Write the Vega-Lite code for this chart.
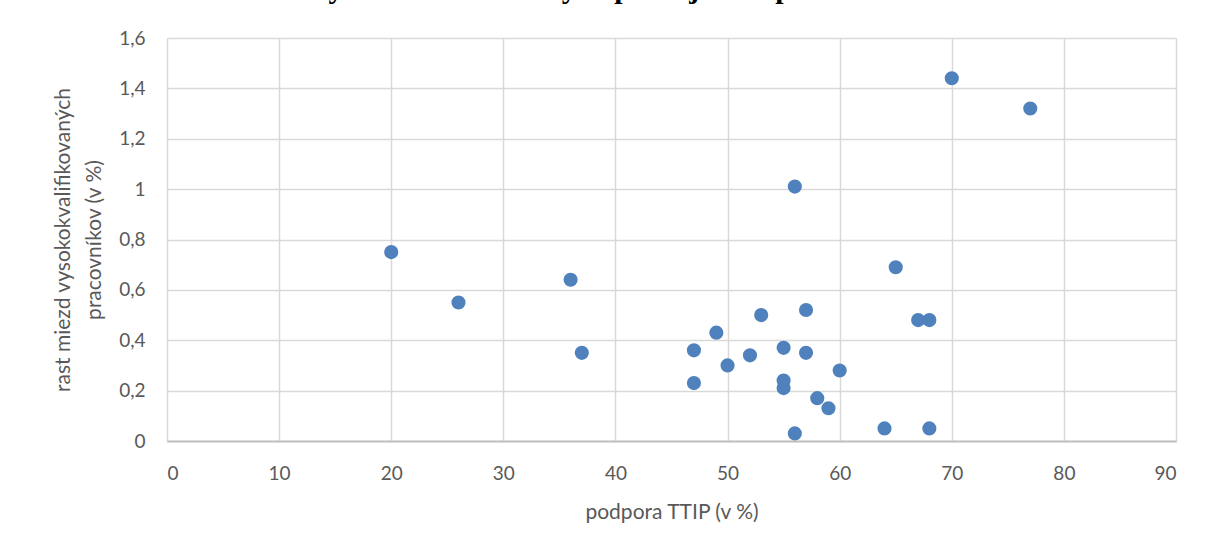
{
  "$schema": "https://vega.github.io/schema/vega-lite/v6.json",
  "width": 1009,
  "height": 403,
  "autosize": {"type": "none"},
  "padding": {"left": 167, "top": 38, "right": 30, "bottom": 113},
  "background": "white",
  "title": {
    "text": "vysokokvalifikovaných pracujúcich podľa TTIP",
    "font": "Liberation Serif",
    "fontSize": 30,
    "fontWeight": "bold",
    "color": "black",
    "anchor": "middle",
    "baseline": "bottom",
    "offset": -5,
    "dx": -50
  },
  "data": {
    "values": [
      {"podpora": 20, "rast": 0.75},
      {"podpora": 26, "rast": 0.55},
      {"podpora": 36, "rast": 0.64},
      {"podpora": 37, "rast": 0.35},
      {"podpora": 47, "rast": 0.36},
      {"podpora": 47, "rast": 0.23},
      {"podpora": 49, "rast": 0.43},
      {"podpora": 50, "rast": 0.30},
      {"podpora": 52, "rast": 0.34},
      {"podpora": 53, "rast": 0.50},
      {"podpora": 55, "rast": 0.37},
      {"podpora": 55, "rast": 0.24},
      {"podpora": 55, "rast": 0.21},
      {"podpora": 56, "rast": 1.01},
      {"podpora": 56, "rast": 0.03},
      {"podpora": 57, "rast": 0.52},
      {"podpora": 57, "rast": 0.35},
      {"podpora": 58, "rast": 0.17},
      {"podpora": 59, "rast": 0.13},
      {"podpora": 60, "rast": 0.28},
      {"podpora": 64, "rast": 0.05},
      {"podpora": 65, "rast": 0.69},
      {"podpora": 67, "rast": 0.48},
      {"podpora": 68, "rast": 0.48},
      {"podpora": 68, "rast": 0.05},
      {"podpora": 70, "rast": 1.44},
      {"podpora": 77, "rast": 1.32}
    ]
  },
  "mark": {"type": "circle", "size": 200, "color": "#4F81BD", "opacity": 1},
  "encoding": {
    "x": {
      "field": "podpora",
      "type": "quantitative",
      "scale": {"domain": [0, 90], "nice": false, "zero": false},
      "axis": {
        "title": "podpora TTIP (v %)",
        "values": [0, 10, 20, 30, 40, 50, 60, 70, 80, 90],
        "labelPadding": 23,
        "titlePadding": 18
      }
    },
    "y": {
      "field": "rast",
      "type": "quantitative",
      "scale": {"domain": [0, 1.6], "nice": false},
      "axis": {
        "title": ["rast miezd vysokokvalifikovaných", "pracovníkov (v %)"],
        "values": [0, 0.2, 0.4, 0.6, 0.8, 1, 1.2, 1.4, 1.6],
        "labelExpr": "replace(format(datum.value, '~g'), '.', ',')",
        "labelPadding": 22,
        "titlePadding": 14,
        "domain": false
      }
    }
  },
  "config": {
    "font": "Lato",
    "view": {"stroke": null},
    "axis": {
      "labelFont": "Lato",
      "titleFont": "Lato",
      "labelFontSize": 19,
      "titleFontSize": 21,
      "labelColor": "#595959",
      "titleColor": "#595959",
      "titleFontWeight": "normal",
      "gridColor": "#D9D9D9",
      "gridWidth": 1.5,
      "ticks": false,
      "domainColor": "#BFBFBF",
      "domainWidth": 2
    },
    "axisX": {"domain": true},
    "axisY": {"titleLineHeight": 31}
  }
}
